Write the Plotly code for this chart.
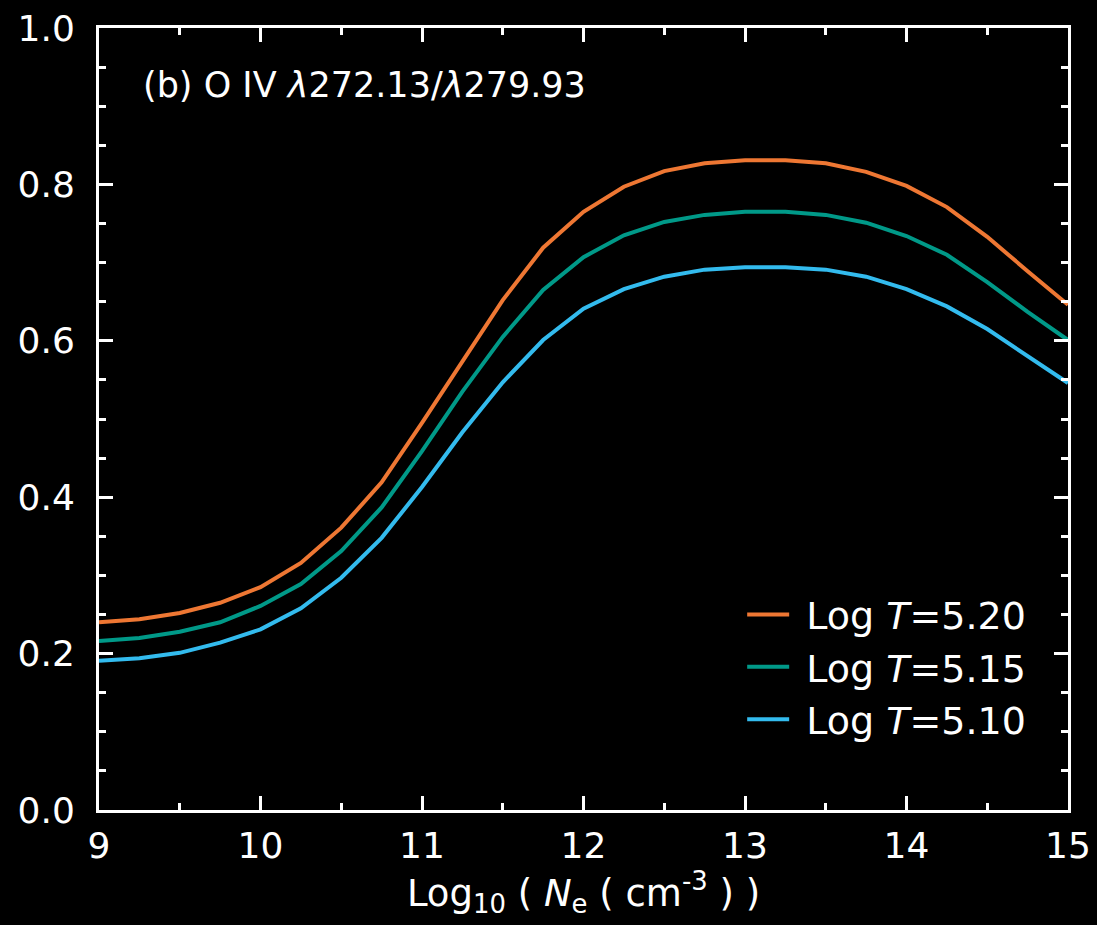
import plotly.graph_objects as go

log_ne = [9.0, 9.25, 9.5, 9.75, 10.0, 10.25, 10.5, 10.75, 11.0, 11.25, 11.5, 11.75,
          12.0, 12.25, 12.5, 12.75, 13.0, 13.25, 13.5, 13.75, 14.0, 14.25, 14.5, 14.75, 15.0]

ratio_t520 = [0.240, 0.244, 0.252, 0.265, 0.285, 0.316, 0.361, 0.419, 0.495, 0.573, 0.652, 0.719,
              0.765, 0.797, 0.817, 0.827, 0.831, 0.831, 0.827, 0.816, 0.798, 0.771, 0.733, 0.689, 0.646]
ratio_t515 = [0.216, 0.220, 0.228, 0.240, 0.261, 0.289, 0.331, 0.387, 0.459, 0.535, 0.605, 0.665,
              0.707, 0.735, 0.752, 0.761, 0.765, 0.765, 0.761, 0.751, 0.734, 0.710, 0.675, 0.637, 0.601]
ratio_t510 = [0.191, 0.194, 0.201, 0.214, 0.231, 0.258, 0.297, 0.348, 0.413, 0.483, 0.547, 0.601,
              0.641, 0.666, 0.682, 0.691, 0.694, 0.694, 0.691, 0.682, 0.666, 0.644, 0.615, 0.581, 0.546]

series_names = ["&nbsp;Log <i>T</i>=5.20", "&nbsp;Log <i>T</i>=5.15", "&nbsp;Log <i>T</i>=5.10"]
series_colors = ["#EE7733", "#009988", "#33BBEE"]
series_values = [ratio_t520, ratio_t515, ratio_t510]

x_ticks = [9, 10, 11, 12, 13, 14, 15]
y_ticks = [0.0, 0.2, 0.4, 0.6, 0.8, 1.0]
y_tick_labels = ["0.0", "0.2", "0.4", "0.6", "0.8", "1.0"]

FONT = "DejaVu Sans"

fig = go.Figure()
for name, color, vals in zip(series_names, series_colors, series_values):
    fig.add_trace(go.Scatter(x=log_ne, y=vals, mode="lines", name=name,
                             line=dict(color=color, width=4)))

axis_common = dict(
    showline=True, linecolor="white", linewidth=3, mirror="ticks",
    ticks="inside", tickcolor="white", tickwidth=3, ticklen=14,
    showgrid=False, zeroline=False, automargin=False,
    tickfont=dict(family=FONT, size=36, color="white"),
)

fig.update_xaxes(range=[9, 15], tickvals=x_ticks, ticktext=[str(v) for v in x_ticks],
                 minor=dict(dtick=0.5, ticks="inside", ticklen=7, tickwidth=3, tickcolor="white", showgrid=False),
                 ticklabelstandoff=2,
                 title=dict(text="Log<sub>10</sub> ( <i>N</i><sub>e</sub> ( cm<sup>-3</sup> ) )",
                            font=dict(family=FONT, size=37, color="white"), standoff=14),
                 **axis_common)
fig.update_yaxes(range=[0, 1.0], tickvals=y_ticks, ticktext=y_tick_labels,
                 minor=dict(dtick=0.05, ticks="inside", ticklen=7, tickwidth=3, tickcolor="white", showgrid=False),
                 ticklabelstandoff=14,
                 **axis_common)

fig.add_annotation(x=0.043, y=0.927, xref="paper", yref="paper", xanchor="left", yanchor="middle",
                   text="(b) O IV <i>λ</i>272.13/<i>λ</i>279.93", showarrow=False,
                   font=dict(family=FONT, size=35, color="white"))

fig.update_layout(
    width=1097, height=925,
    margin=dict(l=99, r=29, t=28, b=115),
    paper_bgcolor="black", plot_bgcolor="black",
    font=dict(family=FONT, color="white"),
    showlegend=True,
    legend=dict(x=0.962, y=0.29, xanchor="right", yanchor="top",
                bgcolor="rgba(0,0,0,0)", font=dict(family=FONT, size=38, color="white"),
                itemwidth=42, tracegroupgap=0),
)

fig.write_html("out.html")
